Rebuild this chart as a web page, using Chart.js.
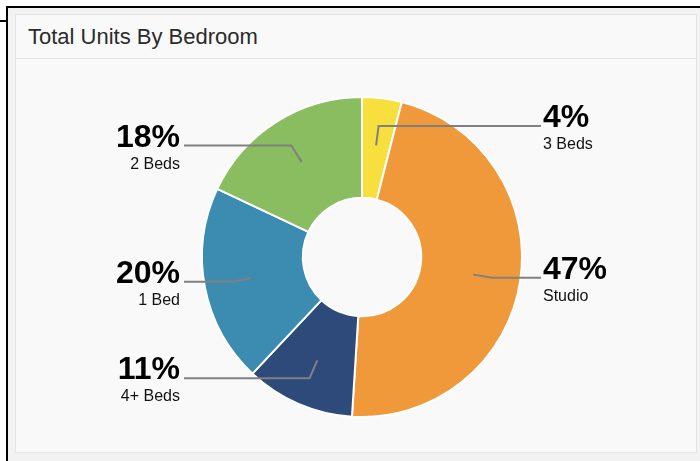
<!DOCTYPE html>
<html>
<head>
<meta charset="utf-8">
<script src="https://cdn.jsdelivr.net/npm/chart.js@4"></script>
<style>
  html, body { margin: 0; padding: 0; width: 700px; height: 461px; background: #ffffff; overflow: hidden; }
  #frame { position: absolute; left: 6px; top: 6px; width: 694px; height: 455px; border-top: 2px solid #000; border-left: 2px solid #000; background: #f2f2f2; box-sizing: border-box; }
  #tick { position: absolute; left: 0; top: 20px; width: 7px; height: 2px; background: #000; }
  #card { position: absolute; left: 15px; top: 14px; width: 682px; height: 439px; border: 1px solid #e4e4e4; background: #f9f9f9; box-sizing: border-box; }
  #head { height: 44px; border-bottom: 1px solid #e2e2e2; box-sizing: border-box; font-family: "Liberation Sans", Arial, sans-serif; font-size: 22px; color: #2b2b2b; padding-left: 12px; line-height: 44px; -webkit-text-stroke: 0; }
  #c { position: absolute; left: 0; top: 0; }
</style>
</head>
<body>
<div id="frame"></div>
<div id="tick"></div>
<div id="card"><div id="head">Total Units By Bedroom</div></div>
<canvas id="c" width="700" height="461"></canvas>
<script>
const categories = ["3 Beds", "Studio", "4+ Beds", "1 Bed", "2 Beds"];
const values = [4, 47, 11, 20, 18];
const colors = ["#f7df3d", "#f0993b", "#2e4a7a", "#3b8cb0", "#89bd5f"];

const calloutPlugin = {
  id: 'callouts',
  afterDatasetsDraw(chart) {
    const ctx = chart.ctx;
    const meta = chart.getDatasetMeta(0);
    const data = chart.data.datasets[0].data;
    const total = data.reduce((a, b) => a + b, 0);
    meta.data.forEach((arc, i) => {
      const p = arc.getProps(['x', 'y', 'startAngle', 'endAngle', 'innerRadius', 'outerRadius'], true);
      const mid = (p.startAngle + p.endAngle) / 2;
      const r1 = p.innerRadius + (p.outerRadius - p.innerRadius) * 0.53;
      const r2 = p.outerRadius - 28;
      const x1 = p.x + Math.cos(mid) * r1, y1 = p.y + Math.sin(mid) * r1;
      const x2 = p.x + Math.cos(mid) * r2, y2 = p.y + Math.sin(mid) * r2;
      const right = Math.cos(mid) >= 0;
      const x3 = right ? p.x + 179 : p.x - 178;
      ctx.save();
      ctx.strokeStyle = '#808080';
      ctx.lineWidth = 2;
      ctx.beginPath();
      ctx.moveTo(x1, y1);
      ctx.lineTo(x2, y2);
      ctx.lineTo(x3, y2);
      ctx.stroke();
      const tx = right ? p.x + 181 : p.x - 182;
      ctx.textAlign = right ? 'left' : 'right';
      ctx.textBaseline = 'alphabetic';
      ctx.fillStyle = '#000';
      ctx.font = 'bold 32px "Liberation Sans", Arial, sans-serif';
      ctx.fillText(Math.round(data[i] / total * 100) + '%', tx, y2 + 1);
      ctx.fillStyle = '#111';
      ctx.font = '16px "Liberation Sans", Arial, sans-serif';
      ctx.fillText(chart.data.labels[i], tx, y2 + 23);
      ctx.restore();
    });
  }
};

new Chart(document.getElementById('c'), {
  type: 'doughnut',
  data: {
    labels: categories,
    datasets: [{
      data: values,
      backgroundColor: colors,
      borderColor: '#ffffff',
      borderWidth: 2,
      hoverOffset: 0
    }]
  },
  options: {
    responsive: false,
    animation: false,
    cutout: '37%',
    events: [],
    layout: { padding: { top: 96, bottom: 43, left: 201, right: 177 } },
    plugins: { legend: { display: false }, tooltip: { enabled: false }, title: { display: false } }
  },
  plugins: [calloutPlugin]
});
</script>
</body>
</html>
